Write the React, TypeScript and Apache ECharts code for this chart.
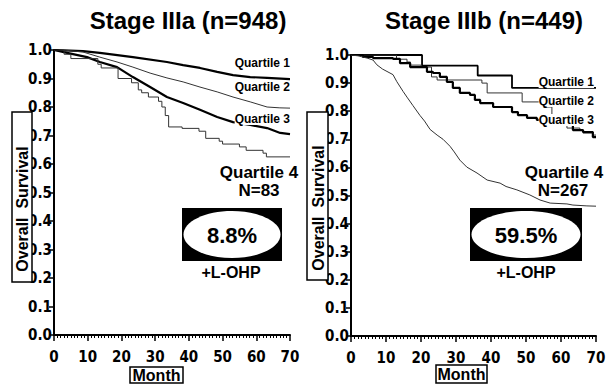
import React, { useEffect, useRef } from "react";
import * as echarts from "echarts";

// Month ticks and survival ticks
const monthTicks = [0, 10, 20, 30, 40, 50, 60, 70];
const survivalTicks = [0, 0.1, 0.2, 0.3, 0.4, 0.5, 0.6, 0.7, 0.8, 0.9, 1.0];

const titles = ["Stage IIIa (n=948)", "Stage IIIb (n=449)"];
const quartileNames = ["Quartile 1", "Quartile 2", "Quartile 3", "Quartile 4"];
const q4Counts = ["N=83", "N=267"];
const percentages = ["8.8%", "59.5%"];
const treatment = "+L-OHP";

// Stage IIIa curves [month, survival]
const iiiaQ1 = [[0, 1.0], [8.6, 0.996], [13.6, 0.99], [23.4, 0.975], [33.5, 0.958], [38.3, 0.947], [43.3, 0.937], [48.4, 0.923], [53.1, 0.912], [58.2, 0.905], [63.2, 0.902], [70, 0.898]];
const iiiaQ2 = [[0, 1.0], [2.7, 1.0], [8.6, 0.993], [13.6, 0.975], [18.7, 0.958], [23.4, 0.94], [28.5, 0.919], [33.5, 0.902], [38.3, 0.888], [43.3, 0.87], [48.4, 0.853], [53.1, 0.835], [58.2, 0.818], [63.2, 0.8], [67, 0.797], [70, 0.796]];
const iiiaQ3 = [[0, 1.0], [3.9, 0.99], [9.8, 0.975], [13.6, 0.958], [18.7, 0.94], [23.4, 0.905], [28.5, 0.87], [33.5, 0.835], [38.3, 0.814], [43.3, 0.79], [48.4, 0.765], [53.1, 0.747], [58.2, 0.737], [63.2, 0.726], [67.1, 0.709], [70, 0.705]];
const iiiaQ4 = [[0, 1.0], [3, 0.985], [5, 0.97], [13, 0.95], [14, 0.937], [19, 0.9], [23, 0.885], [25, 0.86], [26, 0.85], [28, 0.835], [31, 0.82], [32, 0.8], [33, 0.77], [34, 0.73], [38, 0.725], [43, 0.715], [45, 0.69], [49, 0.68], [50, 0.67], [55, 0.66], [57, 0.648], [62, 0.638], [63, 0.625], [70, 0.625]];

// Stage IIIb curves [month, survival]
const iiibQ1 = [[0, 1.0], [20.3, 0.962], [36.2, 0.927], [46, 0.883], [70, 0.883]];
const iiibQ2 = [[0, 1.0], [13, 0.985], [16, 0.975], [17, 0.964], [20, 0.957], [23, 0.922], [24.6, 0.911], [37.4, 0.9], [38.9, 0.865], [48.9, 0.833], [55, 0.815], [57.4, 0.78], [59.7, 0.75], [61.7, 0.74], [65.4, 0.733], [66.3, 0.722], [69, 0.715], [70, 0.715]];
const iiibQ3 = [[0, 1.0], [3.4, 0.993], [6.3, 0.989], [12, 0.986], [14, 0.971], [16.9, 0.957], [21.7, 0.94], [23.4, 0.936], [25.4, 0.922], [27.4, 0.904], [29.1, 0.883], [31.1, 0.865], [34, 0.858], [35.4, 0.84], [36.9, 0.829], [40.6, 0.815], [46, 0.797], [47.7, 0.786], [50.3, 0.776], [53.1, 0.769], [56, 0.76], [59.7, 0.751], [63.4, 0.733], [66.3, 0.726], [69.1, 0.708], [70, 0.708]];
const iiibQ4 = [[0, 1.0], [2, 0.997], [4.6, 0.989], [6.3, 0.982], [7.4, 0.965], [9, 0.95], [12, 0.93], [13.1, 0.905], [14.9, 0.87], [16, 0.85], [17.7, 0.82], [19.7, 0.785], [21, 0.765], [22.6, 0.735], [24.6, 0.715], [26.3, 0.7], [28.3, 0.675], [29.5, 0.655], [31.1, 0.626], [33.1, 0.601], [36, 0.58], [38.9, 0.555], [42.6, 0.544], [44.3, 0.532], [47.4, 0.52], [51.1, 0.502], [54, 0.484], [56.9, 0.473], [61.7, 0.47], [63.4, 0.466], [67.4, 0.463], [70, 0.462]];

const NARROW = '"Liberation Sans Narrow", "DejaVu Sans Condensed", sans-serif';
const SANS = '"Liberation Sans", Arial, sans-serif';

function text(x: number, y: number, t: string, font: string, extra: any = {}) {
  return {
    type: "text",
    x,
    y,
    z: 100,
    style: {
      text: t,
      font,
      fill: "#000",
      align: "center",
      verticalAlign: "middle",
      textAlign: "center",
      textVerticalAlign: "middle",
      ...extra,
    },
  };
}

export default function App() {
  const ref = useRef<HTMLDivElement>(null);
  useEffect(() => {
    if (!ref.current) return;
    const chart = echarts.init(ref.current, null, { renderer: "svg" });

    const xAxisBase = (gi: number) => ({
      gridIndex: gi,
      type: "value",
      min: monthTicks[0],
      max: monthTicks[monthTicks.length - 1],
      interval: 10,
      axisLine: { show: true, lineStyle: { color: "#000", width: 2 } },
      axisTick: { show: true, length: 6, lineStyle: { color: "#000", width: 1.5 } },
      minorTick: { show: true, splitNumber: 10, length: 3, lineStyle: { color: "#000", width: 1 } },
      splitLine: { show: false },
      axisLabel: { color: "#000", fontFamily: NARROW, fontWeight: "bold", fontSize: 15, margin: 14 },
    });
    const yAxisBase = (gi: number) => ({
      gridIndex: gi,
      type: "value",
      min: survivalTicks[0],
      max: survivalTicks[survivalTicks.length - 1],
      interval: 0.1,
      axisLine: { show: true, lineStyle: { color: "#000", width: 2 } },
      axisTick: { show: true, length: 5, lineStyle: { color: "#000", width: 1.5 } },
      splitLine: { show: false },
      axisLabel: {
        color: "#000",
        fontFamily: NARROW,
        fontWeight: "bold",
        fontSize: 15,
        margin: 2,
        formatter: (v: number) => v.toFixed(1),
      },
    });

    const line = (data: number[][], gi: number, width: number, step: any, color = "#000") => ({
      type: "line",
      xAxisIndex: gi,
      yAxisIndex: gi,
      data,
      step,
      symbol: "none",
      showSymbol: false,
      lineStyle: { color, width },
      z: 3,
    });

    const box = (x1: number, y1: number, x2: number, y2: number, pct: string) => {
      const cx = (x1 + x2) / 2;
      const cy = (y1 + y2) / 2;
      return [
        { type: "rect", z: 99, shape: { x: x1, y: y1, width: x2 - x1, height: y2 - y1 }, style: { fill: "#000" } },
        { type: "ellipse", z: 99, shape: { cx, cy, rx: (x2 - x1) / 2 - 1.5, ry: (y2 - y1) / 2 - 3 }, style: { fill: "#fff" } },
        text(cx, cy + 1, pct, `bold 22px ${SANS}`),
      ];
    };

    const graphic: any[] = [
      text(188, 20, titles[0], `bold 24px ${SANS}`),
      text(484, 20, titles[1], `bold 24px ${SANS}`),
      // Quartile labels Stage IIIa
      text(290, 63, quartileNames[0], `bold 12px ${SANS}`, { align: "right", textAlign: "right", backgroundColor: "#fff" }),
      text(290, 87, quartileNames[1], `bold 12px ${SANS}`, { align: "right", textAlign: "right", backgroundColor: "#fff" }),
      text(290, 119, quartileNames[2], `bold 12px ${SANS}`, { align: "right", textAlign: "right", backgroundColor: "#fff" }),
      text(259, 172, quartileNames[3], `bold 17px ${SANS}`),
      text(259, 190, q4Counts[0], `bold 17px ${SANS}`),
      // Quartile labels Stage IIIb
      text(594, 82, quartileNames[0], `bold 12px ${SANS}`, { align: "right", textAlign: "right", backgroundColor: "#fff" }),
      text(594, 101, quartileNames[1], `bold 12px ${SANS}`, { align: "right", textAlign: "right", backgroundColor: "#fff" }),
      text(594, 120, quartileNames[2], `bold 12px ${SANS}`, { align: "right", textAlign: "right", backgroundColor: "#fff" }),
      text(564, 172, quartileNames[3], `bold 17px ${SANS}`),
      text(563, 190, q4Counts[1], `bold 17px ${SANS}`),
      ...box(182, 208, 282, 261, percentages[0]),
      ...box(470, 208, 582, 261, percentages[1]),
      text(231, 272, treatment, `bold 16px ${SANS}`),
      text(526, 272, treatment, `bold 16px ${SANS}`),
      // Y axis title boxes
      { type: "rect", z: 99, shape: { x: 12, y: 112, width: 20, height: 170 }, style: { fill: "#fff", stroke: "#000", lineWidth: 1.5 } },
      { ...text(22.5, 209, "Overall  Survival", `bold 16px ${SANS}`), rotation: Math.PI / 2 },
      { type: "rect", z: 99, shape: { x: 307, y: 112, width: 21, height: 168 }, style: { fill: "#fff", stroke: "#000", lineWidth: 1.5 } },
      { ...text(318, 208, "Overall  Survival", `bold 16px ${SANS}`), rotation: Math.PI / 2 },
      // Month boxes
      { type: "rect", z: 99, shape: { x: 130, y: 367, width: 53, height: 16 }, style: { fill: "#fff", stroke: "#000", lineWidth: 1.5 } },
      text(156.5, 375.5, "Month", `bold 16px ${SANS}`),
      { type: "rect", z: 99, shape: { x: 436, y: 365, width: 51, height: 18 }, style: { fill: "#fff", stroke: "#000", lineWidth: 1.5 } },
      text(461.5, 374.5, "Month", `bold 16px ${SANS}`),
    ];

    chart.setOption({
      animation: false,
      backgroundColor: "#fff",
      textStyle: { fontFamily: SANS },
      grid: [
        { left: 54, top: 50, width: 236, height: 285 },
        { left: 351, top: 55, width: 245, height: 281 },
      ],
      xAxis: [xAxisBase(0), xAxisBase(1)],
      yAxis: [yAxisBase(0), yAxisBase(1)],
      series: [
        line(iiiaQ1, 0, 2.2, false),
        line(iiiaQ2, 0, 1, false, "#333"),
        line(iiiaQ3, 0, 2.2, false),
        line(iiiaQ4, 0, 1, "end", "#333"),
        line(iiibQ1, 1, 1.8, "end"),
        line(iiibQ2, 1, 1, "end", "#333"),
        line(iiibQ3, 1, 2.2, "end"),
        line(iiibQ4, 1, 1, false, "#333"),
      ],
      graphic,
    });
    return () => chart.dispose();
  }, []);
  return <div ref={ref} style={{ position: "absolute", left: 0, top: 0, width: 616, height: 389 }} />;
}
